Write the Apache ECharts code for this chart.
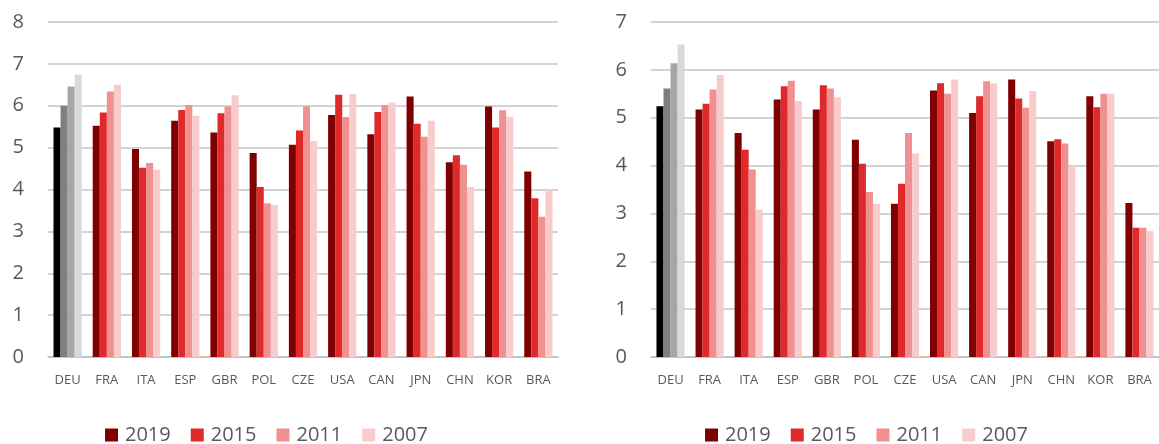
<!DOCTYPE html>
<html>
<head>
<meta charset="utf-8">
<script src="https://cdn.jsdelivr.net/npm/echarts@6/dist/echarts.min.js"></script>
<style>
  html, body { margin: 0; padding: 0; background: #ffffff; }
  #chart { width: 1159px; height: 444px; }
</style>
</head>
<body>
<div id="chart"></div>
<script>
// Countries shown on both panels
const countries = ['DEU', 'FRA', 'ITA', 'ESP', 'GBR', 'POL', 'CZE', 'USA', 'CAN', 'JPN', 'CHN', 'KOR', 'BRA'];
const years = ['2019', '2015', '2011', '2007'];

// Left panel values, one array per year
const left2019 = [5.48, 5.52, 4.97, 5.64, 5.36, 4.87, 5.07, 5.78, 5.32, 6.22, 4.65, 5.98, 4.43];
const left2015 = [6.00, 5.84, 4.52, 5.90, 5.82, 4.06, 5.41, 6.26, 5.85, 5.57, 4.82, 5.48, 3.79];
const left2011 = [6.46, 6.34, 4.63, 6.02, 5.98, 3.67, 5.98, 5.73, 6.02, 5.26, 4.59, 5.89, 3.35];
const left2007 = [6.74, 6.50, 4.47, 5.76, 6.25, 3.63, 5.16, 6.28, 6.08, 5.64, 4.06, 5.74, 4.01];

// Right panel values, one array per year
const right2019 = [5.24, 5.17, 4.68, 5.38, 5.17, 4.54, 3.20, 5.57, 5.10, 5.80, 4.51, 5.45, 3.22];
const right2015 = [5.61, 5.29, 4.33, 5.66, 5.68, 4.04, 3.62, 5.72, 5.45, 5.40, 4.55, 5.22, 2.70];
const right2011 = [6.14, 5.59, 3.92, 5.77, 5.61, 3.45, 4.68, 5.50, 5.76, 5.21, 4.46, 5.50, 2.70];
const right2007 = [6.53, 5.89, 3.08, 5.35, 5.43, 3.20, 4.26, 5.80, 5.72, 5.56, 3.98, 5.50, 2.63];

// Axis ranges
const leftMax = 8;
const rightMax = 7;

const yearColors = ['#7f0000', '#e0292a', '#f09090', '#f9cccc'];
const highlightColors = ['#000000', '#7f7f7f', '#a6a6a6', '#d9d9d9']; // DEU bars
const textColor = '#595959';
const font = '"Open Sans", "Liberation Sans", sans-serif';

const leftSets = [left2019, left2015, left2011, left2007];
const rightSets = [right2019, right2015, right2011, right2007];

function toData(values, k) {
  return values.map((v, i) => i === 0
    ? { value: v, itemStyle: { color: highlightColors[k] } }
    : v);
}

function barSeries(sets, axisIndex) {
  return sets.map((vals, k) => ({
    name: years[k],
    type: 'bar',
    xAxisIndex: axisIndex,
    yAxisIndex: axisIndex,
    data: toData(vals, k),
    itemStyle: { color: yearColors[k] },
    barGap: '0%',
    barCategoryGap: '28%',
    animation: false
  }));
}

function xAxis(gridIndex) {
  return {
    type: 'category',
    gridIndex: gridIndex,
    data: countries,
    axisTick: { show: false },
    axisLine: { lineStyle: { color: '#bfbfbf', width: 1.5 } },
    axisLabel: { color: textColor, fontFamily: font, fontSize: 13, margin: 17, interval: 0 }
  };
}

function yAxis(gridIndex, max) {
  return {
    type: 'value',
    gridIndex: gridIndex,
    min: 0,
    max: max,
    interval: 1,
    axisLine: { show: false },
    axisTick: { show: false },
    splitLine: { lineStyle: { color: '#c4c4c4', width: 1.5 } },
    axisLabel: { color: textColor, fontFamily: font, fontSize: 20, margin: 24 }
  };
}

function legend(left) {
  return {
    left: left,
    top: 420,
    data: years,
    icon: 'rect',
    itemWidth: 13,
    itemHeight: 13,
    itemGap: 20,
    selectedMode: false,
    textStyle: { color: textColor, fontFamily: font, fontSize: 20, padding: [0, 0, 0, 2] }
  };
}

const chart = echarts.init(document.getElementById('chart'), null, { renderer: 'canvas' });
chart.setOption({
  backgroundColor: '#ffffff',
  animation: false,
  color: yearColors,
  grid: [
    { left: 48, width: 510, top: 22, height: 335 },
    { left: 651, width: 509, top: 22, height: 335 }
  ],
  xAxis: [xAxis(0), xAxis(1)],
  yAxis: [yAxis(0, leftMax), yAxis(1, rightMax)],
  legend: [legend(100), legend(700)],
  series: barSeries(leftSets, 0).concat(barSeries(rightSets, 1))
});
</script>
</body>
</html>
